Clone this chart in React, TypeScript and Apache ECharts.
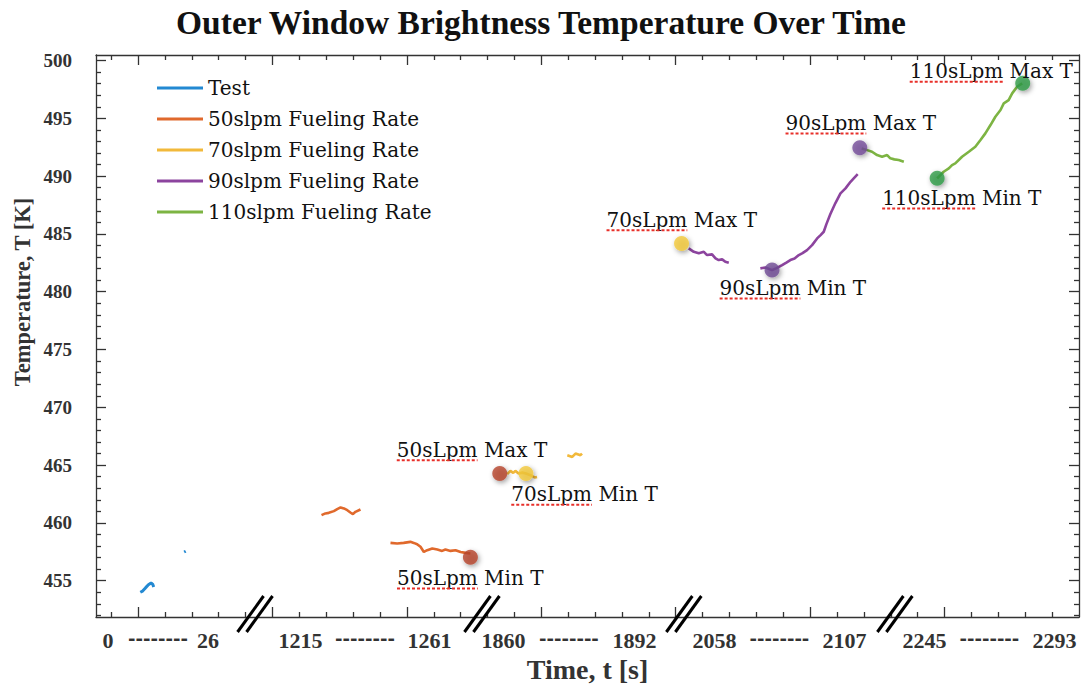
import { useEffect, useRef } from "react";
import * as echarts from "echarts";

// ---------------- data ----------------
const TITLE = "Outer Window Brightness Temperature Over Time";
const X_NAME = "Time, t [s]";
const Y_NAME = "Temperature, T [K]";

// broken time axis: each segment is labelled "start -------- end"
const SEGMENT_START_TIMES = [0, 1215, 1860, 2058, 2245];
const SEGMENT_END_TIMES = [26, 1261, 1892, 2107, 2293];
const Y_TICK_VALUES = [455, 460, 465, 470, 475, 480, 485, 490, 495, 500];

const SERIES_NAMES = [
  "Test",
  "50slpm Fueling Rate",
  "70slpm Fueling Rate",
  "90slpm Fueling Rate",
  "110slpm Fueling Rate",
];

// null = gap in the record
const TEST_TIME = [8.4, 9.0, 9.8, 10.5, 11.2, 11.6, 11.9, 15, 19.8, 20.2];
const TEST_TEMP = [454.0, 454.1, 454.4, 454.65, 454.8, 454.7, 454.45, null, 457.48, 457.55];

const F50_TIME = [
  1222.5, 1223.9, 1225.1, 1226.9, 1228.1, 1229.3, 1230.5, 1231.7, 1232.8, 1233.7, 1234.6, 1236.4,
  1240,
  1247.1, 1249.5, 1251.8, 1254.2, 1255.4, 1256.6, 1257.8, 1259.0, 1260.2, 1262.0, 1263.8, 1265.5,
  1266.7, 1268.5, 1270.3, 1272.1, 1273.9, 1275.6,
];
const F50_TEMP = [
  460.67, 460.82, 460.87, 461.02, 461.19, 461.34, 461.25, 461.1, 460.9, 460.76, 460.96, 461.16,
  null,
  458.27, 458.22, 458.27, 458.36, 458.27, 458.16, 457.93, 457.49, 457.64, 457.79, 457.7, 457.58,
  457.7, 457.58, 457.64, 457.49, 457.41, 457.36,
];

const F70_TIME = [
  1860.9, 1861.7, 1862.4, 1862.9, 1863.7, 1864.6, 1865.5, 1866.6, 1867.6, 1868.2,
  1871,
  1875.6, 1876.8, 1877.6, 1878.8, 1879.2,
];
const F70_TEMP = [
  464.22, 464.5, 464.33, 464.5, 464.28, 464.35, 464.28, 464.13, 463.93, 463.98,
  null,
  465.86, 465.71, 466.0, 465.86, 466.0,
];

const F90_TIME = [
  2048.3, 2050.2, 2052.1, 2054.0, 2055.2, 2057.1, 2058.4, 2059.6, 2060.9, 2062.1, 2063.4,
  2068,
  2075.3, 2077.2, 2079.7, 2081.4, 2083.5, 2085.1, 2086.6, 2088.2, 2089.8, 2091.2, 2092.9, 2094.8,
  2096.7, 2098.0, 2099.2, 2100.2, 2101.7, 2103.6, 2105.5, 2107.4, 2109.3, 2110.5, 2112.0,
];
const F90_TEMP = [
  483.75, 483.45, 483.32, 483.45, 483.17, 483.23, 482.88, 482.74, 482.8, 482.59, 482.5,
  null,
  482.02, 482.09, 481.87, 482.04, 482.3, 482.52, 482.74, 482.87, 483.17, 483.34, 483.6, 484.03,
  484.61, 484.9, 485.19, 485.85, 486.72, 487.67, 488.51, 488.94, 489.51, 489.81, 490.18,
];

const F110_TIME = [
  2113.5, 2115.6, 2117.4, 2119.3, 2121.2, 2123.1, 2124.3, 2125.8, 2235.5, 2237.4,
  2242,
  2249.7, 2252.1, 2254.0, 2255.2, 2256.4, 2258.9, 2261.4, 2263.8, 2265.7, 2267.5, 2269.4,
  2271.2, 2273.1, 2274.3, 2276.1, 2277.4, 2279.2, 2281.1,
];
const F110_TEMP = [
  492.4, 492.25, 492.11, 491.82, 491.68, 491.82, 491.54, 491.45, 491.39, 491.24,
  null,
  489.81, 490.38, 490.67, 490.96, 491.1, 491.68, 492.11, 492.54, 493.12, 493.7, 494.42,
  495.14, 495.72, 496.3, 496.58, 497.16, 497.73, 498.03,
];

const MARKER_NAMES = [
  "50sLpm Max T",
  "50sLpm Min T",
  "70sLpm Min T",
  "70sLpm Max T",
  "90sLpm Min T",
  "90sLpm Max T",
  "110sLpm Min T",
  "110sLpm Max T",
];
const MARKER_TIME = [1859.1, 1275.6, 1865.5, 1903.5, 2079.7, 2112.8, 2249.7, 2281.3];
const MARKER_TEMP = [464.28, 457.03, 464.28, 484.18, 481.87, 492.45, 489.81, 498.03];

// ---------------- layout / style (not data) ----------------
const X_MIN = -0.565;
const X_MAX = 36.0;
const Y_MIN = 451.86;
const Y_MAX = 500.48;
// where each segment's labelled start/end sit on the (tick-unit) axis
const SEG_AXIS_START = [-0.119, 7.041, 14.591, 22.44, 30.25];
const SEG_AXIS_END = [3.601, 11.839, 19.464, 27.275, 35.085];
const BREAK_AXIS = [5.37, 13.81, 21.32, 29.17];

const LINE_COLORS = ["#2389d2", "#e0692c", "#f2b93b", "#8c449e", "#7db443"];
const MARKER_COLORS = ["#b5432d", "#b5432d", "#f3c93b", "#f3c93b", "#6e4a93", "#744c98", "#2e9b47", "#2e9b47"];
// label baseline offset from its dot: [dx, dy]
const LABEL_OFFSETS = [
  [-103, -16.6],
  [-73.4, 27.7],
  [-14.7, 27.7],
  [-75, -16.6],
  [-52.4, 25],
  [-74.3, -17.7],
  [-55, 26.7],
  [-113, -5],
];

const SERIF = "'DejaVu Serif', serif";
const SERIF_B = "'Liberation Serif', 'DejaVu Serif', serif";
const AXIS_COLOR = "#333";

function toAxis(t: number): number {
  let best = 0;
  let bestD = Infinity;
  for (let i = 0; i < SEGMENT_START_TIMES.length; i++) {
    const s = SEGMENT_START_TIMES[i];
    const e = SEGMENT_END_TIMES[i];
    const d = t < s ? s - t : t > e ? t - e : 0;
    if (d < bestD) {
      bestD = d;
      best = i;
    }
  }
  const s = SEGMENT_START_TIMES[best];
  const e = SEGMENT_END_TIMES[best];
  const a = SEG_AXIS_START[best];
  const b = SEG_AXIS_END[best];
  return a + ((t - s) * (b - a)) / (e - s);
}

function pairs(times: number[], temps: (number | null)[]) {
  return times.map((t, i) => [toAxis(t), temps[i] === null ? "-" : temps[i]]);
}

const SERIES_DATA = [
  pairs(TEST_TIME, TEST_TEMP),
  pairs(F50_TIME, F50_TEMP),
  pairs(F70_TIME, F70_TEMP),
  pairs(F90_TIME, F90_TEMP),
  pairs(F110_TIME, F110_TEMP),
];

export default function App() {
  const ref = useRef<HTMLDivElement>(null);

  useEffect(() => {
    if (!ref.current) return;
    const chart = echarts.init(ref.current, null, { renderer: "svg" });

    const ctx = document.createElement("canvas").getContext("2d")!;
    ctx.font = `20px ${SERIF}`;
    const wordWidth = (s: string) => ctx.measureText(s).width;

    // x ticks in tick units
    const xMajor: number[] = [];
    const xMinor: number[] = [];
    for (let k = 0; k <= 35; k++) ((k - 1) % 5 === 0 ? xMajor : xMinor).push(k);
    const yMajor = Y_TICK_VALUES.slice();
    const yMinor: number[] = [];
    for (let v = 452; v <= 500; v++) if (v % 5 !== 0) yMinor.push(v);

    // x labels
    const labelVals: number[] = [];
    const labelTexts: string[] = [];
    SEGMENT_START_TIMES.forEach((s, i) => {
      const a = toAxis(s);
      const b = toAxis(SEGMENT_END_TIMES[i]);
      labelVals.push(a, (a + b) / 2, b);
      labelTexts.push(String(s), "{d|--------}", String(SEGMENT_END_TIMES[i]));
    });
    const labelFor = (v: number) => {
      let bi = 0;
      let bd = Infinity;
      labelVals.forEach((lv, i) => {
        const d = Math.abs(lv - v);
        if (d < bd) {
          bd = d;
          bi = i;
        }
      });
      return labelTexts[bi];
    };

    const lineStyle = { color: AXIS_COLOR, width: 1.3 };
    const xBase = { type: "value", min: X_MIN, max: X_MAX, splitLine: { show: false } };
    const yBase = { type: "value", min: Y_MIN, max: Y_MAX, splitLine: { show: false } };

    const xAxis = [
      {
        ...xBase,
        position: "bottom",
        axisLine: { show: true, onZero: false, lineStyle },
        axisTick: { show: true, inside: true, length: 10, customValues: xMajor, lineStyle },
        axisLabel: {
          show: true,
          customValues: labelVals,
          formatter: (v: number) => labelFor(v),
          margin: 12,
          color: AXIS_COLOR,
          fontFamily: SERIF_B,
          fontWeight: "bold",
          fontSize: 22,
          rich: {
            d: {
              fontFamily: SERIF,
              fontWeight: "bold",
              fontSize: 18,
              color: AXIS_COLOR,
            },
          },
        },
        name: X_NAME,
        nameLocation: "middle",
        nameGap: 33,
        nameTextStyle: { fontFamily: SERIF_B, fontWeight: "bold", fontSize: 28, color: "#333" },
      },
      {
        ...xBase,
        position: "bottom",
        axisLine: { show: false, onZero: false },
        axisTick: { show: true, inside: true, length: 5, customValues: xMinor, lineStyle },
        axisLabel: { show: false },
      },
      {
        ...xBase,
        position: "top",
        axisLine: { show: true, onZero: false, lineStyle },
        axisTick: { show: true, inside: true, length: 10, customValues: xMajor, lineStyle },
        axisLabel: { show: false },
      },
      {
        ...xBase,
        position: "top",
        axisLine: { show: false, onZero: false },
        axisTick: { show: true, inside: true, length: 5, customValues: xMinor, lineStyle },
        axisLabel: { show: false },
      },
    ];
    const yAxis = [
      {
        ...yBase,
        position: "left",
        axisLine: { show: true, onZero: false, lineStyle },
        axisTick: { show: true, inside: true, length: 10, customValues: yMajor, lineStyle },
        axisLabel: {
          show: true,
          customValues: yMajor,
          margin: 24,
          color: AXIS_COLOR,
          fontFamily: SERIF_B,
          fontWeight: "bold",
          fontSize: 19,
        },
      },
      {
        ...yBase,
        position: "left",
        axisLine: { show: false, onZero: false },
        axisTick: { show: true, inside: true, length: 5, customValues: yMinor, lineStyle },
        axisLabel: { show: false },
      },
      {
        ...yBase,
        position: "right",
        axisLine: { show: true, onZero: false, lineStyle },
        axisTick: { show: true, inside: true, length: 10, customValues: yMajor, lineStyle },
        axisLabel: { show: false },
      },
      {
        ...yBase,
        position: "right",
        axisLine: { show: false, onZero: false },
        axisTick: { show: true, inside: true, length: 5, customValues: yMinor, lineStyle },
        axisLabel: { show: false },
      },
    ];

    const lineSeries = SERIES_NAMES.map((name, i) => ({
      type: "line",
      name,
      data: SERIES_DATA[i],
      xAxisIndex: 0,
      yAxisIndex: 0,
      symbol: "none",
      showSymbol: false,
      connectNulls: false,
      color: LINE_COLORS[i],
      lineStyle: { width: i === 0 ? 3 : 2.6, color: LINE_COLORS[i] },
      z: 3,
    }));

    const markerData = MARKER_TIME.map((t, i) => ({
      value: [toAxis(t), MARKER_TEMP[i]],
      itemStyle: { color: MARKER_COLORS[i] },
    }));

    const option: any = {
      animation: false,
      backgroundColor: "#fff",
      title: {
        text: TITLE,
        left: "center",
        top: 0,
        textStyle: { fontFamily: SERIF_B, fontWeight: "bold", fontSize: 33.5, color: "#111" },
      },
      grid: { left: 96, right: 3, top: 55, bottom: 69, containLabel: false, outerBoundsMode: "none" },
      legend: {
        data: SERIES_NAMES,
        orient: "vertical",
        left: 157,
        top: 78,
        padding: 0,
        icon: "rect",
        itemWidth: 46,
        itemHeight: 3,
        itemGap: 11,
        textStyle: { fontFamily: SERIF, fontSize: 20, color: "#111", lineHeight: 20, height: 20 },
      },
      xAxis,
      yAxis,
      graphic: [
        {
          type: "text",
          x: 22,
          y: 292,
          rotation: Math.PI / 2,
          style: {
            text: Y_NAME,
            fontFamily: SERIF_B,
            fontWeight: "bold",
            fontSize: 22.5,
            fill: "#333",
            align: "center",
            verticalAlign: "middle",
          },
        },
      ],
      series: [
        ...lineSeries,
        {
          type: "scatter",
          name: "markers",
          data: markerData,
          symbolSize: 15,
          xAxisIndex: 0,
          yAxisIndex: 0,
          itemStyle: {
            shadowBlur: 5,
            shadowColor: "rgba(0,0,0,0.45)",
            shadowOffsetX: 1.5,
            shadowOffsetY: 2,
          },
          z: 5,
        },
        {
          type: "custom",
          name: "annotations",
          xAxisIndex: 0,
          yAxisIndex: 0,
          clip: false,
          z: 6,
          data: MARKER_TIME.map((t, i) => [toAxis(t), MARKER_TEMP[i]]),
          renderItem: (params: any, api: any) => {
            const i = params.dataIndex;
            const p = api.coord([api.value(0), api.value(1)]);
            const bx = p[0] + LABEL_OFFSETS[i][0];
            const by = p[1] + LABEL_OFFSETS[i][1];
            const word = MARKER_NAMES[i].split(" ")[0];
            const w = wordWidth(word);
            return {
              type: "group",
              children: [
                {
                  type: "text",
                  x: bx,
                  y: by - 7,
                  style: {
                    text: MARKER_NAMES[i],
                    fontFamily: SERIF,
                    fontSize: 20,
                    fill: "#111",
                    align: "left",
                    verticalAlign: "middle",
                  },
                },
                {
                  type: "line",
                  shape: { x1: bx, y1: by + 3.5, x2: bx + w, y2: by + 3.5 },
                  style: { stroke: "#e8302a", lineWidth: 2, lineDash: [3, 2] },
                },
              ],
            };
          },
        },
        {
          type: "custom",
          name: "breaks",
          xAxisIndex: 0,
          yAxisIndex: 0,
          clip: false,
          z: 7,
          data: BREAK_AXIS.map((b) => [b, Y_MIN]),
          renderItem: (params: any, api: any) => {
            const p = api.coord([api.value(0), api.value(1)]);
            const cx = p[0];
            const cy = p[1];
            const st = { stroke: "#000", lineWidth: 3 };
            return {
              type: "group",
              children: [
                { type: "line", shape: { x1: cx - 18, y1: cy + 15, x2: cx + 8, y2: cy - 21 }, style: st },
                { type: "line", shape: { x1: cx - 9, y1: cy + 15, x2: cx + 17, y2: cy - 21 }, style: st },
              ],
            };
          },
        },
      ],
    };

    chart.setOption(option);
    return () => chart.dispose();
  }, []);

  return (
    <div
      ref={ref}
      style={{ position: "fixed", left: 0, top: 0, width: 1082, height: 686, background: "#fff" }}
    />
  );
}
